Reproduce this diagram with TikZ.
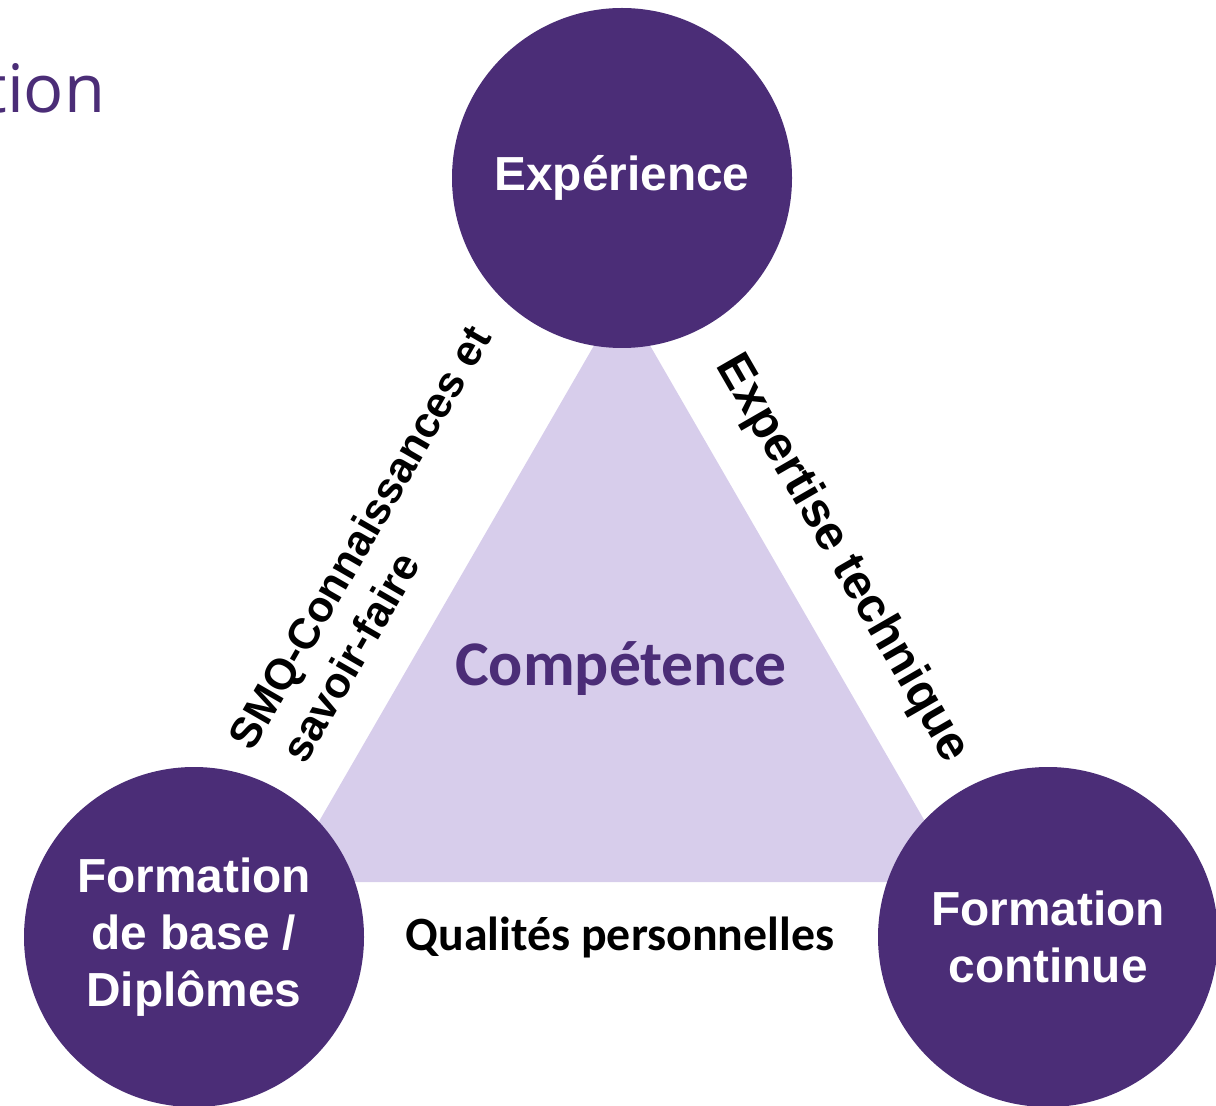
\documentclass[tikz,border=0pt]{standalone}
\usepackage{fontspec}
\setmainfont{Liberation Sans}
\newfontfamily\calibrifont{Carlito}
\newfontfamily\titrefont{Open Sans}
\usetikzlibrary{positioning, calc}
\definecolor{violetfonce}{HTML}{4B2D77}
\definecolor{lavande}{HTML}{D7CDEB}

\begin{document}
\begin{tikzpicture}[
  every node/.style={font=\bfseries},
  pole/.style={circle, fill=violetfonce, text=white, minimum size=3.4cm, inner sep=0pt, align=center, font=\fontsize{13.6}{16.2}\selectfont\bfseries},
  cote/.style={text=black, align=left, inner sep=0pt, font=\fontsize{12.3}{14.8}\selectfont\bfseries},
  centre/.style={text=violetfonce, inner sep=0pt, font=\calibrifont\fontsize{18.1}{22}\selectfont\bfseries},
  base/.style={text=black, inner sep=0pt, font=\calibrifont\fontsize{13.6}{16}\selectfont\bfseries}
]
\useasboundingbox (0,0) rectangle (12.16,11.05);

% Titre coupe
\node[anchor=base east, text=violetfonce, inner sep=0pt, font=\titrefont\fontsize{19}{23}\selectfont] (titre) at (1.06,9.92) {tion};

% Triangle
\coordinate (sommet) at (6.22,8.08);
\coordinate (gauche) at (2.84,2.23);
\coordinate (droite) at (9.60,2.23);
\fill[lavande] (sommet) -- (gauche) -- (droite) -- cycle;

% Poles
\node[pole] (experience) at (6.22,9.27) {Expérience};
\node[pole] (formbase) at (1.94,1.68) {Formation\\de base /\\Diplômes};
\node[pole] (formcont) at (10.48,1.68) {Formation\\continue};

% Textes
\node[centre] (competence) at (6.21,4.36) {Compétence};
\node[base] (qualites) at (6.20,1.68) {Qualités personnelles};
\node[cote, rotate=60] (smq) at (3.82,5.55) {SMQ-Connaissances et\\\hspace*{0.15cm}savoir-faire};
\node[cote, rotate=-60, font=\fontsize{13.8}{16}\selectfont\bfseries] (expertise) at (8.42,5.46) {Expertise technique};

\end{tikzpicture}
\end{document}
